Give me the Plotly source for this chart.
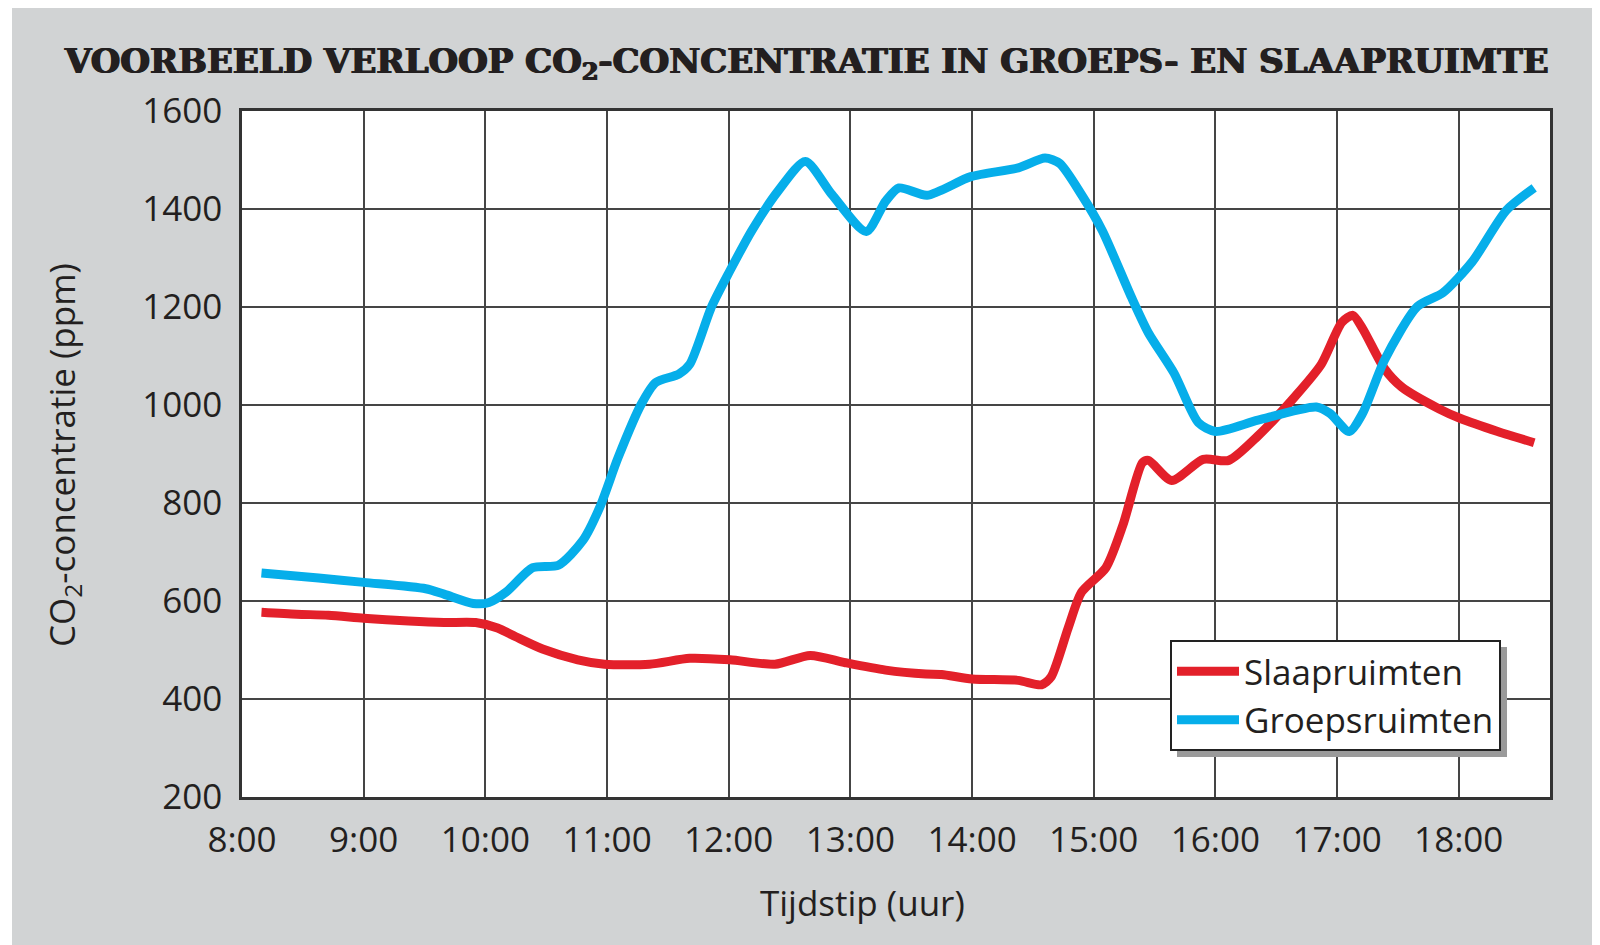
import plotly.graph_objects as go

# ---------------- data (hours as decimal, CO2 in ppm) ----------------
tijd_groep = [8.16, 8.63, 9.00, 9.51, 9.66, 9.90, 10.03, 10.17, 10.39, 10.60, 10.80, 10.94,
              11.09, 11.28, 11.40, 11.59, 11.68, 11.86, 12.01, 12.19, 12.41, 12.63, 12.85,
              13.13, 13.29, 13.40, 13.63, 13.99, 14.38, 14.60, 14.72, 14.90, 15.07, 15.31,
              15.45, 15.66, 15.86, 16.00, 16.35, 16.83, 16.94, 17.10, 17.21, 17.39, 17.66,
              17.87, 18.11, 18.39, 18.62]
co2_groep = [657, 647, 638, 625, 614, 595, 597, 618, 668, 673, 723, 791,
             892, 1001, 1046, 1063, 1083, 1201, 1274, 1356, 1438, 1497, 1429,
             1354, 1416, 1443, 1428, 1466, 1484, 1504, 1493, 1429, 1356, 1220,
             1147, 1065, 964, 946, 969, 996, 983, 946, 983, 1092, 1201,
             1229, 1292, 1397, 1443]

tijd_slaap = [8.16, 8.45, 8.71, 9.00, 9.37, 9.66, 9.92, 10.10, 10.25, 10.47, 10.76, 10.98,
              11.35, 11.68, 12.01, 12.38, 12.67, 12.96, 13.29, 13.62, 13.75, 14.00, 14.38,
              14.57, 14.65, 14.79, 14.90, 15.10, 15.24, 15.40, 15.45, 15.64, 15.90, 16.11,
              16.35, 16.66, 16.87, 17.04, 17.13, 17.21, 17.39, 17.53, 17.84, 18.01, 18.32,
              18.62]
co2_slaap = [577, 573, 571, 565, 559, 556, 556, 545, 527, 502, 480, 471,
             471, 483, 480, 471, 489, 474, 459, 451, 450, 441, 438,
             429, 445, 545, 618, 668, 755, 882, 887, 846, 889, 887,
             937, 1019, 1083, 1169, 1183, 1156, 1074, 1037, 992, 973, 946,
             923]

tick_uren = [8, 9, 10, 11, 12, 13, 14, 15, 16, 17, 18]
tick_labels = ["8:00", "9:00", "10:00", "11:00", "12:00", "13:00", "14:00",
               "15:00", "16:00", "17:00", "18:00"]
y_ticks = [200, 400, 600, 800, 1000, 1200, 1400, 1600]

# ---------------- layout geometry ----------------
# the html body has an 8px margin, so the figure is 8px smaller than the window
OFF = 8
W, H = 1600 - OFF, 945 - OFF
ML, MR, MT, MB = 234, 50, 103, 148
PW, PH = W - ML - MR, H - MT - MB


def px(page_x):
    return (page_x - OFF - ML) / PW


def py(page_y):
    return (H - MB - (page_y - OFF)) / PH


RED = "#e3202a"
BLUE = "#06aeea"
DARK = "#231f20"
GREY_BG = "#d1d3d4"
FONT = "Open Sans"
FS = 35

fig = go.Figure()
fig.add_trace(go.Scatter(x=tijd_slaap, y=co2_slaap, mode="lines", name="Slaapruimten",
                         line=dict(color=RED, width=9, shape="spline", smoothing=0.7)))
fig.add_trace(go.Scatter(x=tijd_groep, y=co2_groep, mode="lines", name="Groepsruimten",
                         line=dict(color=BLUE, width=9, shape="spline", smoothing=0.7)))

fig.update_layout(
    width=W, height=H,
    margin=dict(l=ML, r=MR, t=MT, b=MB),
    paper_bgcolor=GREY_BG,
    plot_bgcolor="white",
    font=dict(family=FONT, color=DARK, size=FS),
    showlegend=True,
    legend=dict(x=px(1170), y=py(640), xanchor="left", yanchor="top",
                bgcolor="white", bordercolor="#222", borderwidth=2,
                font=dict(family=FONT, size=FS, color=DARK),
                itemwidth=62, tracegroupgap=0),
)
fig.update_xaxes(range=[8, 18.75], tickmode="array", tickvals=tick_uren, ticktext=tick_labels,
                 showgrid=True, gridcolor="#454545", gridwidth=1.5,
                 showline=True, linecolor="#333", linewidth=2.5, mirror=True,
                 ticks="outside", ticklen=10, tickcolor="rgba(0,0,0,0)",
                 tickfont=dict(family=FONT, size=FS, color=DARK), zeroline=False)
fig.update_yaxes(range=[200, 1600], tickmode="array", tickvals=y_ticks,
                 showgrid=True, gridcolor="#454545", gridwidth=1.5,
                 showline=True, linecolor="#333", linewidth=2.5, mirror=True,
                 ticks="outside", ticklen=10, tickcolor="rgba(0,0,0,0)",
                 tickfont=dict(family=FONT, size=FS, color=DARK), zeroline=False)

# extra white strip at the left edge of the page (the body margin gives the first 8px)
fig.add_shape(type="rect", xref="paper", yref="paper", x0=px(OFF), x1=px(12), y0=py(945),
              y1=py(OFF), fillcolor="white", line=dict(width=0), layer="below")
# legend shadow (offset 7px right/down from the legend box)
fig.add_shape(type="rect", xref="paper", yref="paper", x0=px(1177), x1=px(1507), y0=py(757),
              y1=py(647), fillcolor="#9a9a9a", line=dict(width=0), layer="above")

# title
fig.add_annotation(text="VOORBEELD VERLOOP CO<sub>2</sub>-CONCENTRATIE IN GROEPS- EN SLAAPRUIMTE",
                   xref="paper", yref="paper", x=px(806), y=py(63), xanchor="center",
                   yanchor="middle", showarrow=False,
                   font=dict(family="DejaVu Serif", size=34, color=DARK, weight="bold",
                             shadow="0.8px 0 0 #231f20, -0.8px 0 0 #231f20"))
# axis titles
fig.add_annotation(text="Tijdstip (uur)", xref="paper", yref="paper", x=px(862), y=py(903),
                   xanchor="center", yanchor="middle", showarrow=False,
                   font=dict(family=FONT, size=FS, color=DARK))
fig.add_annotation(text="CO<sub>2</sub>-concentratie (ppm)", xref="paper", yref="paper",
                   x=px(63), y=py(455), xanchor="center", yanchor="middle", textangle=-90,
                   showarrow=False, font=dict(family=FONT, size=FS, color=DARK))

fig.write_html("out.html")
